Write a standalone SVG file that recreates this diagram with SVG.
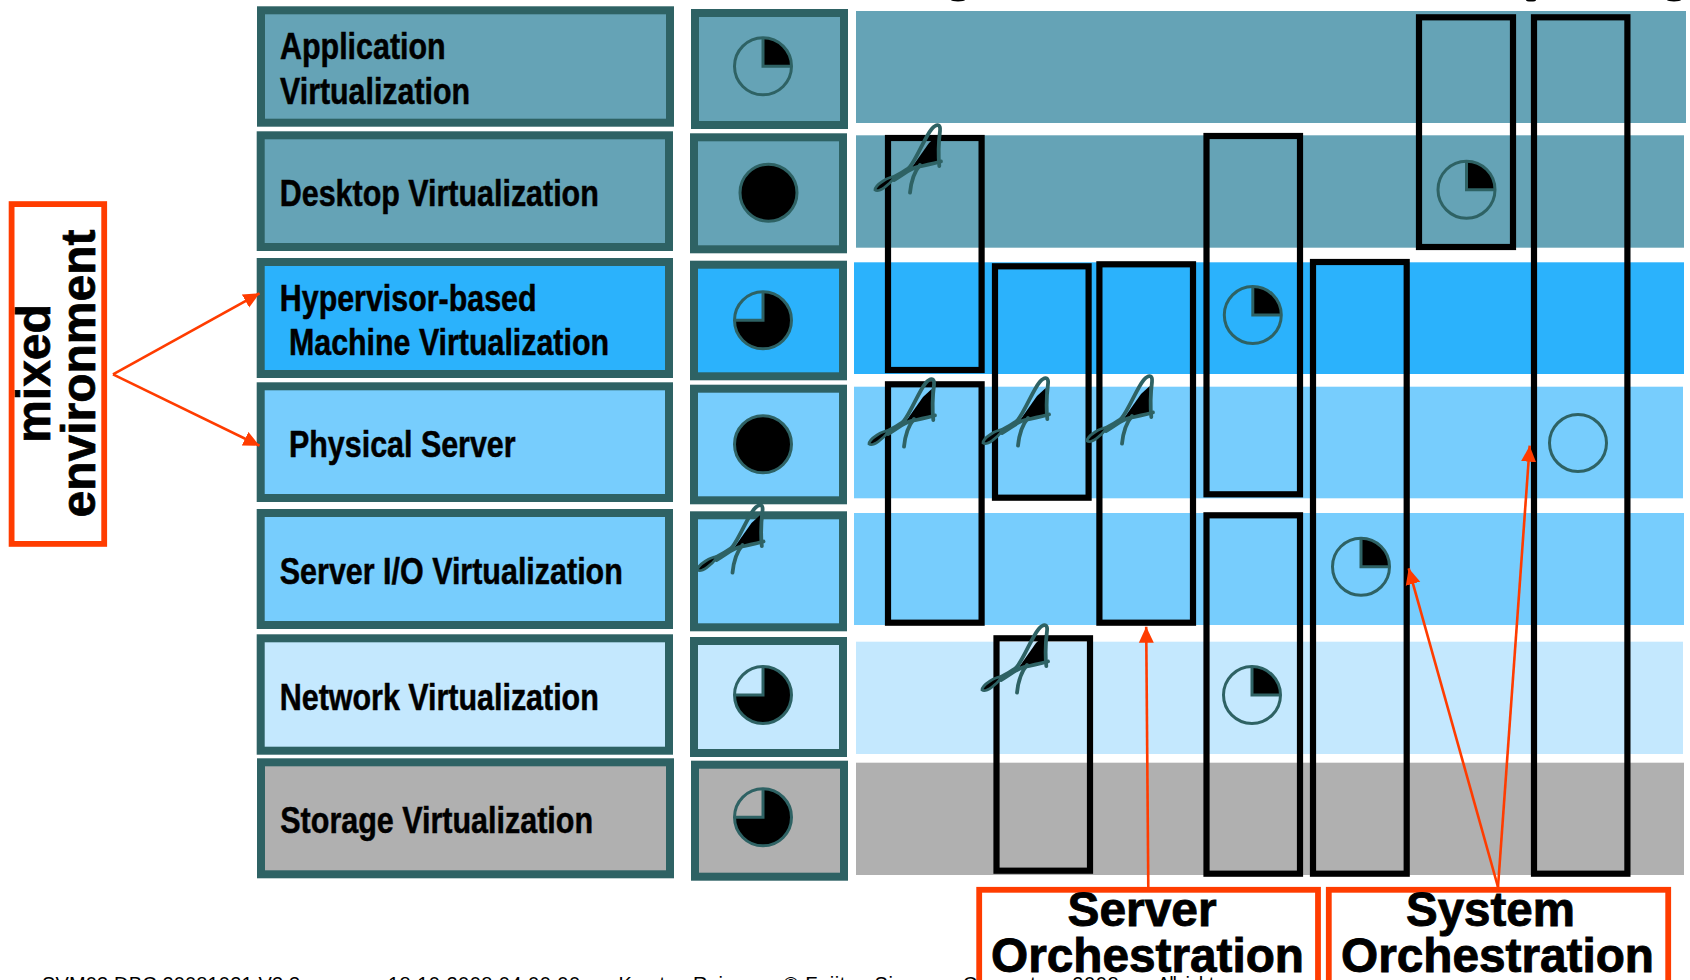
<svg xmlns="http://www.w3.org/2000/svg" width="1690" height="980" viewBox="0 0 1690 980">
<style>
text{font-family:"Liberation Sans",Arial,sans-serif;font-weight:700;fill:#000}
.lbl{font-size:36px;stroke:#000;stroke-width:.5}
.big{font-size:48px;stroke:#000;stroke-width:.9}
.rot{font-size:48px;text-anchor:middle;stroke:#000;stroke-width:.7}
.foot{font-size:20px;font-weight:400}
.box{stroke:#2e6264;stroke-width:8}
.t{fill:#65a3b6}.h{fill:#2bb2fc}.p{fill:#77cdfd}.n{fill:#c4e8fe}.s{fill:#b0b0b0}
.col{fill:none;stroke:#000;stroke-width:6.2}
.or{fill:none;stroke:#ff3c00;stroke-width:5.8}
.arr{fill:none;stroke:#ff3c00;stroke-width:2.6;marker-end:url(#ah)}
.pl{fill:none;stroke:#2e6264;stroke-width:3}
.sl{fill:none;stroke:#2e6264;stroke-width:3.8;stroke-linecap:round}
</style>
<defs>
<marker id="ah" markerUnits="userSpaceOnUse" markerWidth="16" markerHeight="16" viewBox="0 0 16 16" refX="16" refY="8" orient="auto"><path d="M0,0.5L16,8L0,15.5Z" fill="#ff3c00"/></marker>
<g id="p0"><circle r="28.5" class="pl"/></g>
<g id="p25"><path d="M0,-28.5A28.5,28.5 0 0 1 28.5,0H0Z" fill="#000"/><circle r="28.5" class="pl"/><path d="M0,-28.5V0H28.5" class="pl"/></g>
<g id="p75"><path d="M0,-28.5A28.5,28.5 0 1 1 -28.5,0H0Z" fill="#000"/><circle r="28.5" class="pl"/><path d="M0,-28.5V0H-28.5" class="pl"/></g>
<g id="p100"><circle r="28.5" fill="#000" stroke="#2e6264" stroke-width="3"/></g>
<g id="sig"><path d="M-10,18L-1.3,10L-0.7,36L-29,45Z" fill="#000"/><path d="M-62,64C-50,52 -34,48 -29,41.7C-22,33 -14,12 -7.3,4C-3,-1 2,-2 1,6C0,14 -1,28 0.3,41" class="sl"/><path d="M-64,65C-64,60 -50,51 -44,52C-50,60 -60,68 -64,65Z" fill="#000" stroke="#2e6264" stroke-width="2.8"/><path d="M-45,55C-36,50 -30,44 -22,42C-12,40 -4,38 2,36.5" class="sl"/><path d="M-29,67.7C-28,58 -26,48 -19,40" class="sl"/></g>
</defs>
<rect width="1690" height="980" fill="#fff"/>
<ellipse cx="958" cy="0" rx="7" ry="1.5"/><ellipse cx="1531" cy="0" rx="5" ry="1.5"/><ellipse cx="1674" cy="0" rx="7" ry="1.5"/>

<g id="bands">
<rect class="t" x="856" y="11" width="830" height="112"/>
<rect class="t" x="856" y="135.3" width="828" height="112.4"/>
<rect class="h" x="854" y="262.3" width="830" height="111.7"/>
<rect class="p" x="854" y="386.7" width="829" height="111.6"/>
<rect class="p" x="854" y="513" width="830" height="112"/>
<rect class="n" x="856" y="641.7" width="827" height="112.3"/>
<rect class="s" x="856" y="762.7" width="828" height="112.3"/>
</g>

<g id="node-application"><rect class="box t" x="261" y="10.3" width="409" height="112.4"/><text class="lbl" x="280" y="59.3" textLength="165.7" lengthAdjust="spacingAndGlyphs">Application</text><text class="lbl" x="280" y="104.3" textLength="190" lengthAdjust="spacingAndGlyphs">Virtualization</text></g>
<g id="node-desktop"><rect class="box t" x="260.7" y="135.3" width="408.3" height="111.7"/><text class="lbl" x="279.8" y="206" textLength="319" lengthAdjust="spacingAndGlyphs">Desktop Virtualization</text></g>
<g id="node-hypervisor"><rect class="box h" x="260.7" y="262" width="408.3" height="112"/><text class="lbl" x="279.8" y="311" textLength="256.7" lengthAdjust="spacingAndGlyphs">Hypervisor-based</text><text class="lbl" x="289" y="355" textLength="320" lengthAdjust="spacingAndGlyphs">Machine Virtualization</text></g>
<g id="node-physical"><rect class="box p" x="260.7" y="386.3" width="408.3" height="111.7"/><text class="lbl" x="289" y="456.7" textLength="226.6" lengthAdjust="spacingAndGlyphs">Physical Server</text></g>
<g id="node-serverio"><rect class="box p" x="260.7" y="513" width="408.3" height="112"/><text class="lbl" x="279.8" y="584.3" textLength="343" lengthAdjust="spacingAndGlyphs">Server I/O Virtualization</text></g>
<g id="node-network"><rect class="box n" x="260.7" y="638.3" width="408.3" height="112.4"/><text class="lbl" x="279.8" y="710.3" textLength="319" lengthAdjust="spacingAndGlyphs">Network Virtualization</text></g>
<g id="node-storage"><rect class="box s" x="261" y="762.3" width="409" height="112"/><text class="lbl" x="280.3" y="832.7" textLength="312.7" lengthAdjust="spacingAndGlyphs">Storage Virtualization</text></g>

<g id="rating-application"><rect class="box t" x="695" y="13" width="149" height="112"/><use href="#p25" x="763" y="66.3"/></g>
<g id="rating-desktop"><rect class="box t" x="694" y="137.3" width="149" height="112"/><use href="#p100" x="768.5" y="192.7"/></g>
<g id="rating-hypervisor"><rect class="box h" x="694" y="264.7" width="149" height="111.6"/><use href="#p75" x="763" y="320.3"/></g>
<g id="rating-physical"><rect class="box p" x="694" y="388.7" width="149" height="111.6"/><use href="#p100" x="763" y="444.3"/></g>
<g id="rating-serverio"><rect class="box p" x="694" y="515.3" width="149" height="112"/></g>
<g id="rating-network"><rect class="box n" x="694" y="641" width="149" height="112"/><use href="#p75" x="763" y="695"/></g>
<g id="rating-storage"><rect class="box s" x="695" y="764.7" width="149" height="112"/><use href="#p75" x="763" y="817.3"/></g>

<g id="columns">
<rect class="col" x="888" y="138" width="93.6" height="232"/>
<rect class="col" x="888" y="384.3" width="93.6" height="238.4"/>
<rect class="col" x="995" y="266.3" width="93.6" height="231.4"/>
<rect class="col" x="1099.4" y="264.3" width="93.6" height="358.4"/>
<rect class="col" x="1206.5" y="136" width="93.5" height="358.3"/>
<rect class="col" x="1206.5" y="515.3" width="93.5" height="358.4"/>
<rect class="col" x="1313" y="262" width="93.7" height="611.7"/>
<rect class="col" x="1419" y="17.3" width="94" height="229.7"/>
<rect class="col" x="1534" y="17.3" width="93.4" height="856.4"/>
<rect class="col" x="996.5" y="638.3" width="93.5" height="232.4"/>
</g>

<g id="marks">
<use href="#p25" x="1252.8" y="315"/>
<use href="#p25" x="1466.5" y="189.7"/>
<use href="#p0" x="1578" y="443"/>
<use href="#p25" x="1361" y="566.7"/>
<use href="#p25" x="1252" y="695"/>
<use href="#sig" x="939" y="125"/>
<use href="#sig" x="933" y="379"/>
<use href="#sig" x="1047" y="378"/>
<use href="#sig" x="1151" y="376"/>
<use href="#sig" x="1046" y="625"/>
<use href="#sig" x="761.5" y="505"/>
</g>

<g id="connectors">
<path class="arr" d="M113,374.3L259.5,293.3"/>
<path class="arr" d="M113,374.3L259.5,445.7"/>
<path class="arr" d="M1148.3,887L1146.2,626.7"/>
<path class="arr" d="M1498,887L1408.7,568.3"/>
<path class="arr" d="M1498,887L1529.7,445.7"/>
</g>

<g id="node-mixed"><rect class="or" x="11.6" y="204.1" width="92.6" height="339.8"/>
<text class="rot" transform="translate(50,373.5) rotate(-90)">mixed</text>
<text class="rot" transform="translate(94.5,373.5) rotate(-90)">environment</text></g>
<g id="node-server-orch"><rect class="or" x="979.2" y="889.8" width="338.8" height="110"/>
<text class="big" x="1067.6" y="926" textLength="149" lengthAdjust="spacingAndGlyphs">Server</text>
<text class="big" x="991" y="971.7" textLength="313" lengthAdjust="spacingAndGlyphs">Orchestration</text></g>
<g id="node-system-orch"><rect class="or" x="1328.8" y="889.8" width="339.4" height="110"/>
<text class="big" x="1406" y="926" textLength="169" lengthAdjust="spacingAndGlyphs">System</text>
<text class="big" x="1341" y="971.7" textLength="313" lengthAdjust="spacingAndGlyphs">Orchestration</text></g>

<g id="footer">
<text class="foot" x="42" y="991" textLength="258" lengthAdjust="spacing">SVM03.DBC.20081021.V3.3</text>
<text class="foot" x="388" y="991" textLength="192" lengthAdjust="spacing">18.10.2008 04:00:00</text>
<text class="foot" x="618.5" y="991">Karsten Reissner</text>
<text class="foot" x="783.6" y="991" textLength="335" lengthAdjust="spacing">© Fujitsu Siemens Computers 2008</text>
<text class="foot" x="1157" y="991" textLength="66" lengthAdjust="spacing">All rights</text>
</g>
</svg>
